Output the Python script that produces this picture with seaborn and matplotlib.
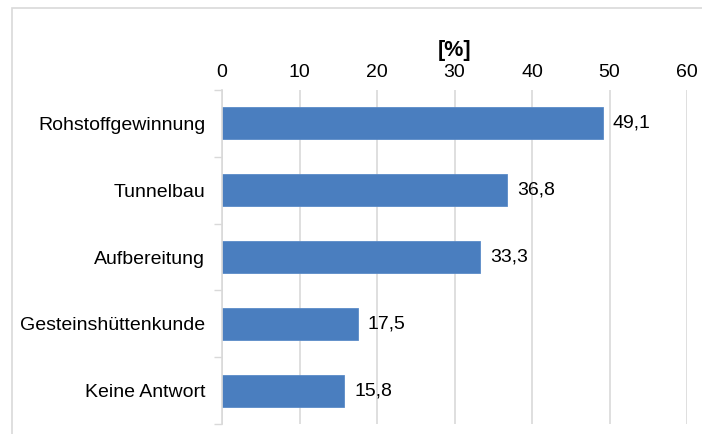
import matplotlib
matplotlib.use("Agg")
import matplotlib.pyplot as plt
import seaborn as sns
import pandas as pd
from matplotlib.patches import Rectangle
from matplotlib.ticker import FixedLocator

categories = ["Rohstoffgewinnung", "Tunnelbau", "Aufbereitung", "Gesteinshüttenkunde", "Keine Antwort"]
values = [49.1, 36.8, 33.3, 17.5, 15.8]
value_labels = ["49,1", "36,8", "33,3", "17,5", "15,8"]
x_ticks = [0, 10, 20, 30, 40, 50, 60]

sns.set_theme(style="white")
plt.rcParams['font.family'] = ['Liberation Sans', 'DejaVu Sans']

df = pd.DataFrame({"cat": categories, "val": values})

fig = plt.figure(figsize=(7.02, 4.34), dpi=100)
ax = fig.add_axes([222/702, 1 - 424/434, (687 - 222)/702, (424 - 90)/434])

sns.barplot(data=df, x="val", y="cat", orient="h", color="#4A7EBF",
            saturation=1, width=0.48, ax=ax, edgecolor="#5B8BC8", linewidth=0.6)

fs = 14
ax.set_xlim(0, 60)
ax.set_ylim(4.5, -0.5)
ax.xaxis.tick_top()
ax.xaxis.set_label_position("top")
ax.set_xticks(x_ticks)
ax.set_xticklabels([str(t) for t in x_ticks], fontsize=fs, color="#000000")
ax.tick_params(axis="x", length=0, pad=6.5)
ax.set_xlabel("[%]", fontsize=15.5, fontweight="bold", labelpad=6, color="#000000")
ax.set_ylabel("")
ax.tick_params(axis="y", which="major", length=0, pad=12, labelsize=fs, labelcolor="#000000")
ax.yaxis.set_minor_locator(FixedLocator([-0.5, 0.5, 1.5, 2.5, 3.5, 4.5]))
ax.tick_params(axis="y", which="minor", length=6, width=1, color="#d9d9d9", left=True)

ax.grid(axis="x", color="#d9d9d9", linewidth=1.2)
ax.set_axisbelow(True)
for s in ["top", "right", "bottom"]:
    ax.spines[s].set_visible(False)
ax.spines["left"].set_color("#d9d9d9")
ax.spines["left"].set_linewidth(1.2)

for i, (v, lab) in enumerate(zip(values, value_labels)):
    ax.annotate(lab, xy=(v, i), xytext=(7, 0), textcoords="offset points",
                va="center", ha="left", fontsize=fs, color="#000000")

fig.add_artist(Rectangle((12/702, -0.2), 2, 1 - 8/434 + 0.2, transform=fig.transFigure,
                         fill=False, edgecolor="#d9d9d9", linewidth=1.2))

fig.savefig("out.png", dpi=100, facecolor="white")
